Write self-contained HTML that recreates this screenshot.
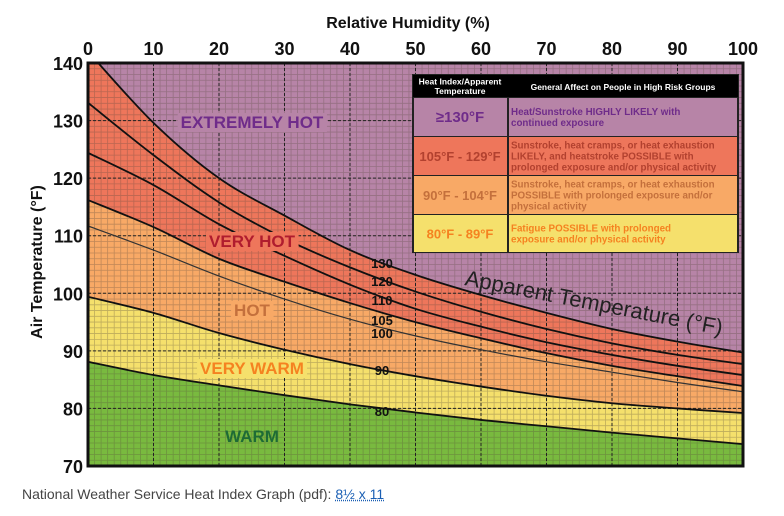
<!DOCTYPE html>
<html><head><meta charset="utf-8"><style>
body{margin:0;background:#fff;width:784px;height:516px;overflow:hidden;font-family:"Liberation Sans",sans-serif}
#cap{position:absolute;left:22px;top:486px;font-size:14px;color:#444}
#cap a{color:#1a5fb4;text-decoration:underline dotted}
</style></head><body>
<svg id="chart" width="784" height="516" style="position:absolute;left:0;top:0"></svg>
<div id="cap">National Weather Service Heat Index Graph (pdf): <a>8½ x 11</a></div>
<script>
const humidity=[0,10,20,30,40,50,60,70,80,90,100];
const curveA=[142,129.6,120,113.5,107.5,103.2,99.7,96.6,93.8,91.6,89.7];
const curveB=[133.1,124,115.8,109.5,104.5,100.3,96.8,93.8,91.3,89.3,87.7];
const curveC=[124.4,118.8,112,106.5,101.5,97.3,94.2,91.5,89.3,87.4,85.8];
const curveD=[116.2,111.5,106,102,98.3,95,92.2,89.6,87.4,85.6,83.9];
const curveE=[111.7,107.5,103,99,95.5,92.6,90.2,88.1,86.3,84.5,82.9];
const curveF=[99.4,96.6,93.1,90.2,87.7,85.6,83.8,82.2,80.9,80.0,79.2];
const curveG=[88.1,85.8,84,82.3,80.7,79.3,78,76.9,75.8,74.8,73.8];
const curveLabels=["130","120","110","105","100","90","80"];
const xTicks=[0,10,20,30,40,50,60,70,80,90,100];
const yTicks=[70,80,90,100,110,120,130,140];

const NS="http://www.w3.org/2000/svg",svg=document.getElementById('chart');
const X0=88,X1=743,Y0=466,Y1=63;
const xs=v=>X0+(v/100)*(X1-X0), ys=v=>Y0-(v-70)/70*(Y0-Y1);
function el(t,a,p){const e=document.createElementNS(NS,t);for(const k in a)e.setAttribute(k,a[k]);(p||svg).appendChild(e);return e;}
const defs=el('defs',{});const cp=el('clipPath',{id:'pc'},defs);el('rect',{x:X0,y:Y1,width:X1-X0,height:Y0-Y1},cp);
function pts(arr){return humidity.map((h,i)=>[xs(h),ys(arr[i])]);}
function smooth(p){let d='';for(let i=0;i<p.length-1;i++){const a=p[i-1]||p[i],b=p[i],c=p[i+1],e=p[i+2]||c;
const c1=[b[0]+(c[0]-a[0])/6,b[1]+(c[1]-a[1])/6],c2=[c[0]-(e[0]-b[0])/6,c[1]-(e[1]-b[1])/6];
d+=(i?'':'M'+b[0]+','+b[1])+' C'+c1+' '+c2+' '+c;}return d;}
const g=el('g',{'clip-path':'url(#pc)'});
const bands=[[null,curveA,'#b784a7','extremely-hot-band'],[curveA,curveD,'#ee765b','very-hot-band'],[curveD,curveF,'#f8a966','hot-band'],[curveF,curveG,'#f5e06c','very-warm-band'],[curveG,null,'#79ba3f','warm-band']];
bands.forEach(b=>{const top=b[0]?smooth(pts(b[0])):'M'+X0+','+(Y1-5)+' L'+X1+','+(Y1-5);
const bp=b[1]?pts(b[1]):[[X0,Y0+5],[X1,Y0+5]];
const rev=bp.slice().reverse();let d=top+' L'+rev[0]+(b[1]?smooth(rev).replace(/^M[^ ]+/,''):' L'+rev[1])+' Z';
const p=el('path',{d:d,fill:b[2]},g);

});
let gd='';for(let h=1;h<100;h++)gd+='M'+xs(h)+','+Y1+'V'+Y0;for(let t=71;t<140;t++)gd+='M'+X0+','+ys(t)+'H'+X1;
el('path',{d:gd,stroke:'#5a4a40','stroke-opacity':0.35,'stroke-width':0.8,fill:'none'},g);
let md='';xTicks.slice(1,-1).forEach(h=>md+='M'+xs(h)+','+Y1+'V'+Y0);yTicks.slice(1,-1).forEach(t=>md+='M'+X0+','+ys(t)+'H'+X1);
el('path',{d:md,stroke:'#222','stroke-width':1,'stroke-dasharray':'3,2',fill:'none'},g);
[curveA,curveB,curveC,curveD,curveE,curveF,curveG].forEach((c,i)=>{const p=el('path',{d:smooth(pts(c)),stroke:i==4?'#333':'#111','stroke-width':i==4?1.2:1.8,fill:'none'},g);

});
el('rect',{x:X0,y:Y1,width:X1-X0,height:Y0-Y1,fill:'none',stroke:'#111','stroke-width':3});
xTicks.forEach(h=>{const t=el('text',{x:xs(h),y:55,'text-anchor':'middle','font-size':18,'font-weight':'bold',fill:'#111'});t.textContent=h;

});
yTicks.forEach(v=>{const t=el('text',{x:83,y:ys(v)+7,'text-anchor':'end','font-size':18,'font-weight':'bold',fill:'#111'});t.textContent=v;

});
let t=el('text',{x:408,y:28,'text-anchor':'middle','font-size':16,'font-weight':'bold',fill:'#111'});t.textContent='Relative Humidity (%)';

t=el('text',{x:42,y:262,'text-anchor':'middle','font-size':16,'font-weight':'bold',fill:'#111',transform:'rotate(-90 42 262)'});t.textContent='Air Temperature (°F)';

[['EXTREMELY HOT',122,'#6f2c8a','#b784a7'],['VERY HOT',241,'#b01c2e','#ee765b'],['HOT',310,'#c4703c','#f8a966'],['VERY WARM',368,'#f58220','#f5e06c'],['WARM',436,'#1e6b35',null]].forEach(z=>{
const tt=el('text',{x:252,y:z[1]+6,'text-anchor':'middle','font-size':17,'font-weight':'bold',fill:z[2]});tt.textContent=z[0];

if(z[3]){const w=tt.getBBox();const r=el('rect',{x:w.x-3,y:w.y,width:w.width+6,height:w.height,fill:z[3]});svg.insertBefore(r,tt);}});
const labelY=[263,281,300,320,333,370,411];
curveLabels.forEach((l,i)=>{const tt=el('text',{x:382,y:labelY[i]+5,'text-anchor':'middle','font-size':13,'font-weight':'bold',fill:'#111'});tt.textContent=l;
});
t=el('text',{x:0,y:0,'font-size':22,fill:'#222',transform:'translate(464,285) rotate(11)',textLength:262});t.textContent='Apparent Temperature (°F)';

const tb=el('g',{});
el('rect',{x:412,y:74,width:327,height:179,fill:'#222'},tb);
el('rect',{x:413,y:75,width:325,height:22,fill:'#000'},tb);
[['Heat Index/Apparent',84.5],['Temperature',94]].forEach(a=>{const x=el('text',{x:460,y:a[1],'text-anchor':'middle','font-size':8.5,'font-weight':'bold',fill:'#fff'},tb);x.textContent=a[0];});
let h2=el('text',{x:623,y:90,'text-anchor':'middle','font-size':8.5,'font-weight':'bold',fill:'#fff'},tb);h2.textContent='General Affect on People in High Risk Groups';
const rows=[[98,136,'#b784a7','#6f2c8a','≥130°F',['Heat/Sunstroke HIGHLY LIKELY with','continued exposure'],15],
[137,175,'#ee765b','#b2412f','105°F - 129°F',['Sunstroke, heat cramps, or heat exhaustion','LIKELY, and heatstroke POSSIBLE with','prolonged exposure and/or physical activity'],13],
[176,214,'#f8a966','#c4703c','90°F - 104°F',['Sunstroke, heat cramps, or heat exhaustion','POSSIBLE with prolonged exposure and/or','physical activity'],13],
[215,252,'#f5e06c','#f58220','80°F - 89°F',['Fatigue POSSIBLE with prolonged','exposure and/or physical activity'],13]];
rows.forEach(r=>{const rg=el('g',{},tb);
el('rect',{x:414,y:r[0],width:93,height:r[1]-r[0],fill:r[2]},rg);el('rect',{x:509,y:r[0],width:228,height:r[1]-r[0],fill:r[2]},rg);
const a=el('text',{x:460,y:(r[0]+r[1])/2+5,'text-anchor':'middle','font-size':r[6],'font-weight':'bold',fill:r[3]},rg);a.textContent=r[4];
const n=r[5].length,st=(r[0]+r[1])/2-(n-1)*5.5+3.5;r[5].forEach((s,i)=>{const b=el('text',{x:511,y:st+i*11,'font-size':9.8,'font-weight':'bold',fill:r[3]},rg);b.textContent=s;});});
</script>
</body></html>
